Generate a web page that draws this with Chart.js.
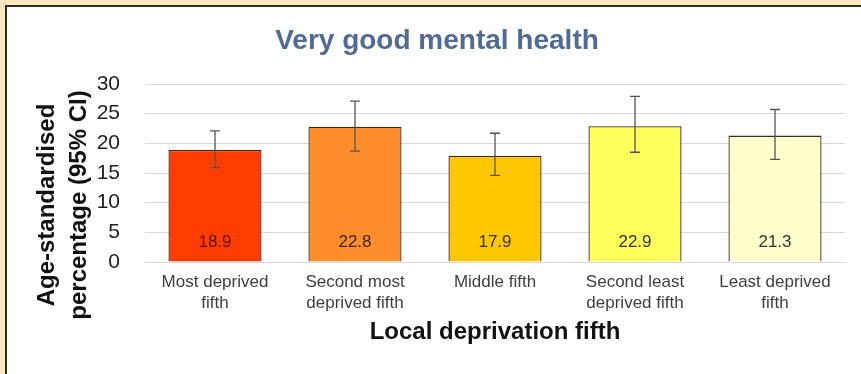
<!DOCTYPE html>
<html>
<head>
<meta charset="utf-8">
<script src="https://cdn.jsdelivr.net/npm/chart.js@4.4.0/dist/chart.umd.min.js"></script>
<style>
  html, body { margin: 0; padding: 0; }
  body { width: 861px; height: 374px; background: #fde9bd; position: relative; overflow: hidden; }
  #frame { position: absolute; left: 5px; top: 5px; width: 860px; height: 372px; background: #fff;
           border-left: 2px solid #2a2a2a; border-top: 2px solid #2a2a2a; }
  #wrap { position: absolute; left: 0; top: 0; width: 861px; height: 374px; }
</style>
</head>
<body>
<div id="frame"></div>
<div id="wrap"><canvas id="grafico" width="861" height="374"></canvas></div>
<script>
const categorias = [
  ["Most deprived", "fifth"],
  ["Second most", "deprived fifth"],
  ["Middle fifth"],
  ["Second least", "deprived fifth"],
  ["Least deprived", "fifth"]
];
const valores = [18.9, 22.8, 17.9, 22.9, 21.3];
const limiteInferior = [15.9, 18.7, 14.6, 18.5, 17.3];
const limiteSuperior = [22.1, 27.1, 21.7, 27.9, 25.7];
const coresBarras = ["#ff3d00", "#ff8d2c", "#ffc700", "#ffff5c", "#ffffcc"];
const coresRotulos = ["#5a1200", "#3a2310", "#333333", "#333333", "#333333"];
const tituloEixoY = ["Age-standardised", "percentage (95% CI)"];

const fonte = "'Liberation Sans', Arial, sans-serif";

// barras de erro (IC 95%), rótulos dos valores e título do eixo Y
const pluginExtras = {
  id: "extras",
  afterDatasetsDraw(chart) {
    const ctx = chart.ctx;
    const meta = chart.getDatasetMeta(0);
    const y = chart.scales.y;
    ctx.save();
    meta.data.forEach((barra, i) => {
      const x = barra.x;
      const yTop = y.getPixelForValue(limiteSuperior[i]);
      const yBot = y.getPixelForValue(limiteInferior[i]);
      ctx.strokeStyle = "#555";
      ctx.lineWidth = 1.3;
      ctx.beginPath();
      ctx.moveTo(x, yTop); ctx.lineTo(x, yBot);
      ctx.moveTo(x - 5, yTop); ctx.lineTo(x + 5, yTop);
      ctx.moveTo(x - 5, yBot); ctx.lineTo(x + 5, yBot);
      ctx.stroke();

      ctx.fillStyle = coresRotulos[i];
      ctx.font = "17px " + fonte;
      ctx.textAlign = "center";
      ctx.textBaseline = "middle";
      ctx.fillText(valores[i].toFixed(1), x, y.getPixelForValue(0) - 20);
    });

    // título do eixo Y, um pouco abaixo do centro como no original
    ctx.fillStyle = "#111";
    ctx.font = "bold 24px " + fonte;
    ctx.textAlign = "center";
    ctx.textBaseline = "middle";
    ctx.translate(47, 205);
    ctx.rotate(-Math.PI / 2);
    tituloEixoY.forEach((linha, i) => ctx.fillText(linha, 0, i * 32));
    ctx.restore();
  }
};

new Chart(document.getElementById("grafico"), {
  type: "bar",
  data: {
    labels: categorias,
    datasets: [{
      data: valores,
      backgroundColor: coresBarras,
      borderColor: "#3a2a1e",
      borderWidth: 1.3,
      categoryPercentage: 1,
      barPercentage: 0.665
    }]
  },
  options: {
    responsive: false,
    animation: false,
    devicePixelRatio: 1,
    layout: { padding: { left: 29, right: 16, top: 0, bottom: 0 } },
    plugins: {
      legend: { display: false },
      tooltip: { enabled: false },
      title: {
        display: true,
        text: "Very good mental health",
        color: "#4f6b96",
        font: { family: fonte, size: 28, weight: "bold", lineHeight: 1.2 },
        padding: { top: 24, bottom: 26.4 }
      }
    },
    scales: {
      x: {
        grid: { display: false, drawTicks: false },
        border: { display: true, color: "#d9d9d9", width: 1 },
        ticks: {
          color: "#404040",
          font: { family: fonte, size: 17, lineHeight: 1.24 },
          padding: 10,
          maxRotation: 0,
          autoSkip: false
        },
        title: {
          display: true,
          text: "Local deprivation fifth",
          color: "#111",
          font: { family: fonte, size: 24, weight: "bold", lineHeight: 1.2 },
          padding: { top: 0, bottom: 27 }
        },
        afterFit(scale) { scale.height = 112; }
      },
      y: {
        min: 0,
        max: 30,
        ticks: {
          stepSize: 5,
          color: "#222",
          font: { family: fonte, size: 21 },
          padding: 25
        },
        grid: { color: "#d9d9d9", lineWidth: 1, drawTicks: false },
        border: { display: false },
        title: { display: false },
        afterFit(scale) { scale.width = 116; }
      }
    }
  },
  plugins: [pluginExtras]
});
</script>
</body>
</html>
